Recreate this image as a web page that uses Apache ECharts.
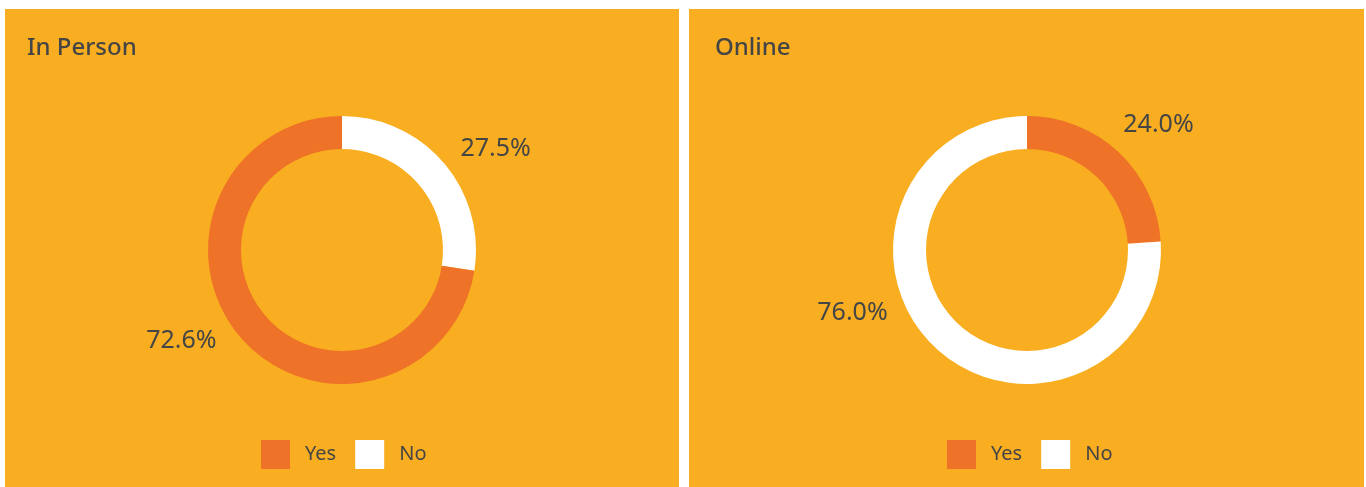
<!DOCTYPE html>
<html>
<head>
<meta charset="utf-8">
<script src="https://cdn.jsdelivr.net/npm/echarts@6/dist/echarts.min.js"></script>
<style>
  html, body { margin: 0; padding: 0; background: #fff; }
  #main { width: 1366px; height: 487px; }
</style>
</head>
<body>
<div id="main"></div>
<script>
var titles = ['In Person', 'Online'];
var legendNames = ['Yes', 'No'];
// slice order as drawn clockwise from 12 o'clock
var inPersonNames = ['No', 'Yes'];
var inPersonValues = [27.5, 72.6];
var onlineNames = ['Yes', 'No'];
var onlineValues = [24.0, 76.0];

var sliceColors = { Yes: '#EE7227', No: '#FFFFFF' };
var bg = '#F9AE21';
var textColor = '#454545';
var font = '"Noto Sans", sans-serif';

// small nudges of the outside labels [series][dataIndex] -> [dx, dy]
var labelNudge = [
  [[-7, -5], [0, -5]],
  [[-18, -17], [-25, -45]]
];

function pieData(names, values) {
  return names.map(function (n, i) {
    return { name: n, value: values[i], itemStyle: { color: sliceColors[n] } };
  });
}

function pieSeries(centerX, names, values) {
  return {
    type: 'pie',
    center: [centerX, 250],
    radius: [101, 134],
    startAngle: 90,
    clockwise: true,
    avoidLabelOverlap: false,
    silent: true,
    label: {
      show: true,
      position: 'outside',
      formatter: function (p) { return p.value.toFixed(1) + '%'; },
      color: textColor,
      fontSize: 25,
      fontFamily: font
    },
    labelLine: { show: false, length: 14, length2: 8 },
    labelLayout: function (p) {
      var n = labelNudge[p.seriesIndex][p.dataIndex];
      return { dx: n[0], dy: n[1] };
    },
    data: pieData(names, values)
  };
}

var dom = document.getElementById('main');
var myChart = echarts.init(dom);

function legendAt(left, seriesIndex) {
  return {
    seriesIndex: seriesIndex,
    data: legendNames,
    left: left, top: 440,
    padding: 0,
    itemWidth: 29, itemHeight: 29, itemGap: 19,
    icon: 'rect',
    selectedMode: false,
    textStyle: { color: textColor, fontSize: 20, fontFamily: font, padding: [0, 0, 0, 10] }
  };
}

var option = {
  backgroundColor: '#fff',
  graphic: [
    { type: 'rect', z: -10, shape: { x: 5, y: 9, width: 674, height: 478 }, style: { fill: bg } },
    { type: 'rect', z: -10, shape: { x: 689, y: 9, width: 675, height: 478 }, style: { fill: bg } }
  ],
  title: [
    { text: titles[0], left: 22, top: 31, textStyle: { color: textColor, fontSize: 24, fontWeight: 500, fontFamily: font } },
    { text: titles[1], left: 710, top: 31, textStyle: { color: textColor, fontSize: 24, fontWeight: 500, fontFamily: font } }
  ],
  legend: [legendAt(261, 0), legendAt(947, 1)],
  series: [
    pieSeries(342, inPersonNames, inPersonValues),
    pieSeries(1027, onlineNames, onlineValues)
  ]
};

myChart.setOption(option, true);
</script>
</body>
</html>
